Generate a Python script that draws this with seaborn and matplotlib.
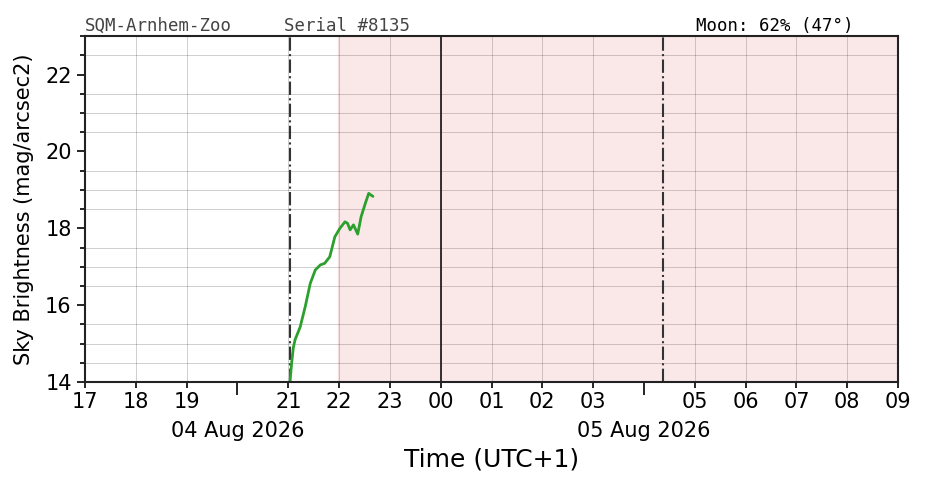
import pandas as pd
import matplotlib.pyplot as plt
import matplotlib.dates as mdates
from matplotlib.ticker import MultipleLocator
import seaborn as sns

# 측정 데이터 (UTC+1)
times = ['2026-08-04 21:02', '2026-08-04 21:04', '2026-08-04 21:06', '2026-08-04 21:08',
         '2026-08-04 21:14', '2026-08-04 21:20', '2026-08-04 21:26', '2026-08-04 21:32',
         '2026-08-04 21:38', '2026-08-04 21:43', '2026-08-04 21:49', '2026-08-04 21:55',
         '2026-08-04 22:01', '2026-08-04 22:07', '2026-08-04 22:10', '2026-08-04 22:13',
         '2026-08-04 22:17', '2026-08-04 22:22', '2026-08-04 22:26', '2026-08-04 22:31',
         '2026-08-04 22:35', '2026-08-04 22:40']
brightness = [14.0, 14.5, 14.9, 15.1, 15.43, 15.96, 16.57, 16.92, 17.05, 17.09, 17.26, 17.78,
              18.0, 18.17, 18.13, 17.96, 18.09, 17.85, 18.3, 18.65, 18.91, 18.83]

# 이벤트 시각
x_start = '2026-08-04 17:00'
x_end = '2026-08-05 09:00'
sun_lines = ['2026-08-04 21:02', '2026-08-05 04:23']
midnight = '2026-08-05 00:00'
dark_start = '2026-08-04 21:59'

station = 'SQM-Arnhem-Zoo'
serial = 'Serial #8135'
moon = 'Moon: 62% (47°)'

df = pd.DataFrame({'time': pd.to_datetime(times), 'mag': brightness})

sns.set_style('ticks')
plt.rcParams['text.color'] = 'black'
plt.rcParams['axes.labelcolor'] = 'black'
plt.rcParams['xtick.color'] = 'black'
plt.rcParams['ytick.color'] = 'black'

fig = plt.figure(figsize=(9.26, 4.88), dpi=100)
ax = fig.add_axes([0.0918, 0.217, 0.878, 0.709])

ax.axvspan(pd.Timestamp(dark_start), pd.Timestamp(x_end), color='tab:red', alpha=0.1)
for t in sun_lines:
    ax.axvline(pd.Timestamp(t), color='#333333', linestyle='-.', linewidth=1.5)
ax.axvline(pd.Timestamp(midnight), color='#222222', linewidth=1.3)

sns.lineplot(data=df, x='time', y='mag', ax=ax, color='tab:green', linewidth=2)

ax.set_xlim(pd.Timestamp(x_start), pd.Timestamp(x_end))
ax.set_ylim(14, 23)

# x축 눈금: 시간(보조) + 날짜(주)
ax.xaxis.set_major_locator(mdates.HourLocator(byhour=[20, 4]))
ax.xaxis.set_major_formatter(mdates.DateFormatter('%d %b %Y'))
ax.xaxis.set_minor_locator(mdates.HourLocator())
ax.xaxis.set_minor_formatter(mdates.DateFormatter('%H'))
ax.yaxis.set_major_locator(MultipleLocator(2))
ax.yaxis.set_minor_locator(MultipleLocator(0.5))

ax.tick_params(axis='both', which='both', direction='out', labelsize=15, width=1.2)
ax.tick_params(axis='x', which='major', length=9, pad=19)
ax.tick_params(axis='x', which='minor', length=4)
ax.tick_params(axis='y', which='major', length=6)
ax.tick_params(axis='y', which='minor', length=3.5)

ax.grid(which='minor', color='k', alpha=0.22, linewidth=0.6)
ax.grid(which='major', visible=False)
for s in ax.spines.values():
    s.set_linewidth(1.5)
    s.set_color('#222222')

ax.set_xlabel('Time (UTC+1)', fontsize=18, labelpad=5)
ax.set_ylabel('Sky Brightness (mag/arcsec2)', fontsize=15, labelpad=8)

ax.text(0.0, 1.003, station, transform=ax.transAxes, family='DejaVu Sans Mono',
        fontsize=12.5, color='#444444', ha='left', va='bottom')
ax.text(0.245, 1.003, serial, transform=ax.transAxes, family='DejaVu Sans Mono',
        fontsize=12.5, color='#444444', ha='left', va='bottom')
ax.text(0.752, 1.003, moon, transform=ax.transAxes, family='DejaVu Sans Mono',
        fontsize=12.5, color='black', ha='left', va='bottom')

plt.savefig('out.png', dpi=100)
